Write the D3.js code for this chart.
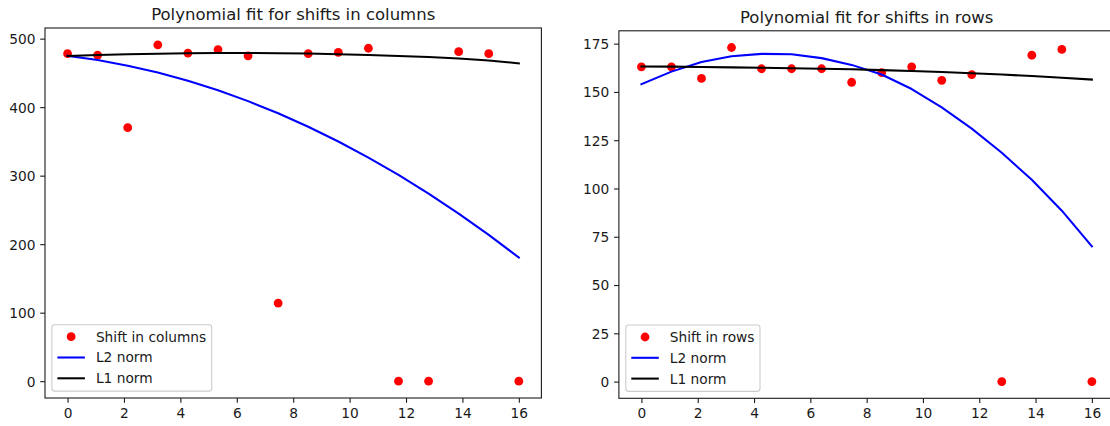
<!DOCTYPE html>
<html>
<head>
<meta charset="utf-8">
<script src="https://cdn.jsdelivr.net/npm/d3@7"></script>
<style>
  body { margin: 0; background: #fff; }
  svg { display: block; font-family: "DejaVu Sans", sans-serif; }
</style>
</head>
<body>
<svg id="chart" width="1110" height="426"></svg>
<script>
// Sample positions (16 frames spread over 0..16)
const sampleX = [0, 1.0667, 2.1333, 3.2, 4.2667, 5.3333, 6.4, 7.4667,
                 8.5333, 9.6, 10.6667, 11.7333, 12.8, 13.8667, 14.9333, 16];

// Measured shifts in columns and the two polynomial fits
const colShift = [478, 476, 370, 491, 479, 484, 475, 114, 478, 480, 486, 0, 0, 481, 478, 0];
const colL2    = [475, 468.7, 460.6, 450.5, 438.5, 424.6, 408.8, 391.1,
                  371.4, 349.9, 326.4, 301.0, 273.8, 244.6, 213.5, 180.5];
const colL1    = [474.6, 476.0, 477.2, 478.0, 478.6, 479.0, 479.0, 478.8,
                  478.2, 477.3, 476.2, 474.8, 473.1, 471.0, 468.0, 464.0];

// Measured shifts in rows and the two polynomial fits
const rowShift = [163, 163, 157, 173, 162, 162, 162, 155, 160, 163, 156, 159, 0, 169, 172, 0];
const rowL2    = [154, 160.5, 165.5, 168.5, 169.7, 169.5, 167.5, 164,
                  159, 151.5, 142, 131, 118.5, 104.5, 88.5, 70];
const rowL1    = [163.2, 163.1, 162.9, 162.7, 162.5, 162.3, 162.0, 161.7,
                  161.3, 160.8, 160.3, 159.7, 159.0, 158.2, 157.3, 156.4];

// Tick values
const xTicks    = [0, 2, 4, 6, 8, 10, 12, 14, 16];
const colYTicks = [0, 100, 200, 300, 400, 500];
const rowYTicks = [0, 25, 50, 75, 100, 125, 150, 175];

// Titles and legend labels
const colTitle = "Polynomial fit for shifts in columns";
const rowTitle = "Polynomial fit for shifts in rows";
const colLegend = ["Shift in columns", "L2 norm", "L1 norm"];
const rowLegend = ["Shift in rows", "L2 norm", "L1 norm"];

const svg = d3.select("#chart");
const FS = 13.75;        // tick / legend font size
const TITLE_FS = 16.5;
const TICK_LEN = 4.8;
const TICK_PAD = 4.8;
const LINE_W = 2.06;
const SPINE_W = 1.1;
const MARKER_R = 4.4;
const INK = "#1a1a1a";

function drawPanel(opt) {
  const x = d3.scaleLinear().domain(opt.xDomain).range([opt.left, opt.right]);
  const y = d3.scaleLinear().domain(opt.yDomain).range([opt.bottom, opt.top]);
  const g = svg.append("g");

  // clip to the axes area
  const clipId = "clip-" + opt.id;
  g.append("clipPath").attr("id", clipId)
    .append("rect")
    .attr("x", opt.left).attr("y", opt.top)
    .attr("width", opt.right - opt.left).attr("height", opt.bottom - opt.top);

  const plot = g.append("g").attr("clip-path", `url(#${clipId})`);

  // data points
  plot.selectAll("circle.pt")
    .data(sampleX.map((v, i) => [v, opt.points[i]]))
    .join("circle")
    .attr("class", "pt")
    .attr("cx", d => x(d[0]))
    .attr("cy", d => y(d[1]))
    .attr("r", MARKER_R)
    .attr("fill", "#ff0000");

  const line = d3.line().x(d => x(d[0])).y(d => y(d[1]));

  // L2 fit
  plot.append("path")
    .datum(sampleX.map((v, i) => [v, opt.l2[i]]))
    .attr("d", line)
    .attr("fill", "none")
    .attr("stroke", "#0000ff")
    .attr("stroke-width", LINE_W)
    .attr("stroke-linejoin", "round")
    .attr("stroke-linecap", "square");

  // L1 fit
  plot.append("path")
    .datum(sampleX.map((v, i) => [v, opt.l1[i]]))
    .attr("d", line)
    .attr("fill", "none")
    .attr("stroke", "#000000")
    .attr("stroke-width", LINE_W)
    .attr("stroke-linejoin", "round")
    .attr("stroke-linecap", "square");

  // axes
  const xAxis = g.append("g")
    .attr("transform", `translate(0,${opt.bottom})`)
    .call(d3.axisBottom(x).tickValues(xTicks).tickSize(TICK_LEN).tickPadding(TICK_PAD));
  const yAxis = g.append("g")
    .attr("transform", `translate(${opt.left},0)`)
    .call(d3.axisLeft(y).tickValues(opt.yTicks).tickSize(TICK_LEN).tickPadding(TICK_PAD));

  [xAxis, yAxis].forEach(a => {
    a.select(".domain").remove();
    a.selectAll(".tick line").attr("stroke", INK).attr("stroke-width", SPINE_W);
    a.selectAll(".tick text")
      .attr("fill", INK)
      .style("font-family", "'DejaVu Sans', sans-serif")
      .style("font-size", FS + "px");
  });
  xAxis.selectAll(".tick text").attr("dy", "0.76em");
  yAxis.selectAll(".tick text").attr("dy", "0.36em");

  // spines
  g.append("rect")
    .attr("x", opt.left).attr("y", opt.top)
    .attr("width", opt.right - opt.left).attr("height", opt.bottom - opt.top)
    .attr("fill", "none")
    .attr("stroke", INK)
    .attr("stroke-width", SPINE_W);

  // title
  g.append("text")
    .attr("x", (opt.left + opt.right) / 2)
    .attr("y", opt.top - 8.25)
    .attr("text-anchor", "middle")
    .style("font-size", TITLE_FS + "px")
    .attr("fill", INK)
    .text(opt.title);

  // legend (lower left)
  const lg = g.append("g");
  const boxX = opt.left + 6.9;
  const rowH = 20.8;
  const boxH = 66.4;
  const boxY = opt.bottom - 6.9 - boxH;
  const box = lg.append("rect")
    .attr("x", boxX).attr("y", boxY)
    .attr("height", boxH)
    .attr("rx", 2.8).attr("ry", 2.8)
    .attr("fill", "#fff").attr("fill-opacity", 0.8)
    .attr("stroke", "#cccccc").attr("stroke-width", SPINE_W);

  const hx0 = boxX + 5.5, hx1 = hx0 + 27.5, tx = hx1 + 11;
  let maxW = 0;
  opt.legend.forEach((label, i) => {
    const cy = boxY + 12.0 + i * rowH;
    if (i === 0) {
      lg.append("circle").attr("cx", (hx0 + hx1) / 2).attr("cy", cy)
        .attr("r", MARKER_R).attr("fill", "#ff0000");
    } else {
      lg.append("line").attr("x1", hx0).attr("x2", hx1).attr("y1", cy).attr("y2", cy)
        .attr("stroke", i === 1 ? "#0000ff" : "#000000").attr("stroke-width", LINE_W);
    }
    const t = lg.append("text").attr("x", tx).attr("y", cy).attr("dy", "0.36em")
      .style("font-size", FS + "px").attr("fill", INK).text(label);
    maxW = Math.max(maxW, t.node().getComputedTextLength());
  });
  box.attr("width", tx - boxX + maxW + 5.5);
}

drawPanel({
  id: "cols", left: 45.0, right: 541.4, top: 28.0, bottom: 398.0,
  xDomain: [-0.8, 16.8], yDomain: [-24.55, 515.55],
  points: colShift, l2: colL2, l1: colL1,
  yTicks: colYTicks, title: colTitle, legend: colLegend
});

drawPanel({
  id: "rows", left: 618.9, right: 1114.4, top: 30.8, bottom: 398.3,
  xDomain: [-0.8, 16.8], yDomain: [-8.65, 181.65],
  points: rowShift, l2: rowL2, l1: rowL1,
  yTicks: rowYTicks, title: rowTitle, legend: rowLegend
});
</script>
</body>
</html>
